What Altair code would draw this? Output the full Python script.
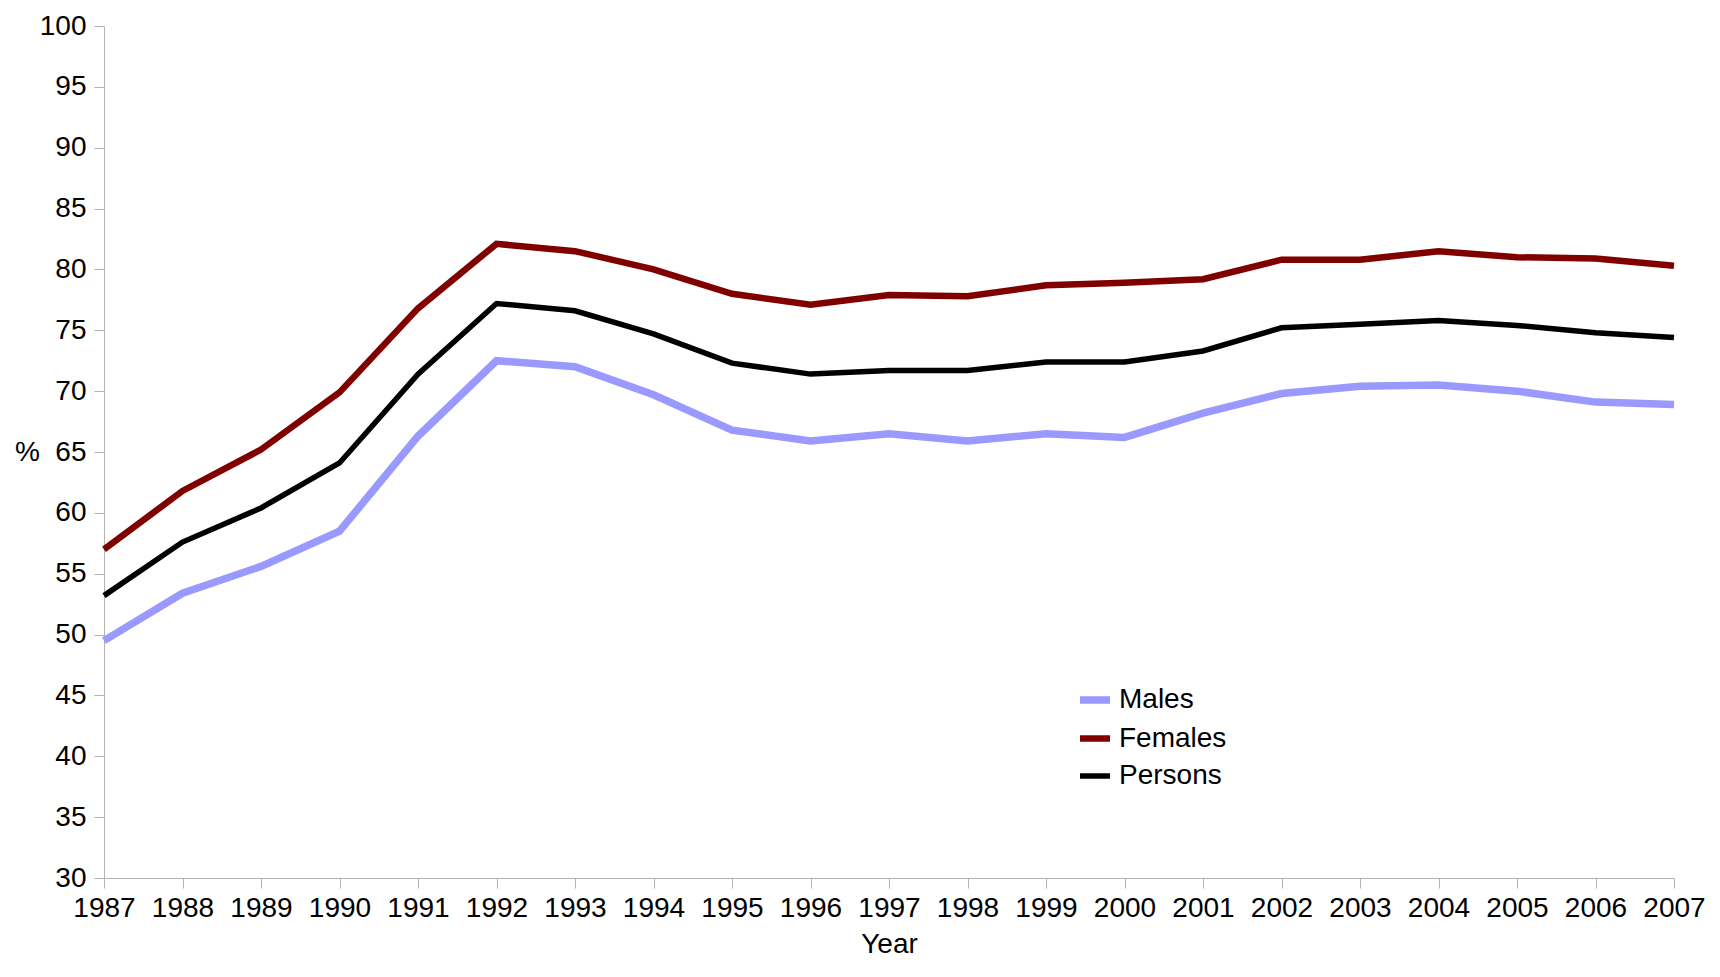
import altair as alt
import pandas as pd

years = list(range(1987, 2008))
males = [49.5, 53.4, 55.6, 58.5, 66.3, 72.5, 72.0, 69.7, 66.8, 65.9, 66.5, 65.9, 66.5, 66.2, 68.2, 69.8, 70.4, 70.5, 70.0, 69.1, 68.9]
females = [57.0, 61.8, 65.2, 69.9, 76.8, 82.1, 81.5, 80.0, 78.0, 77.1, 77.9, 77.8, 78.7, 78.9, 79.2, 80.8, 80.8, 81.5, 81.0, 80.9, 80.3]
persons = [53.2, 57.6, 60.4, 64.1, 71.4, 77.2, 76.6, 74.7, 72.3, 71.4, 71.7, 71.7, 72.4, 72.4, 73.3, 75.2, 75.5, 75.8, 75.4, 74.8, 74.4]

series = ["Males", "Females", "Persons"]
colors = ["#9999ff", "#800000", "#000000"]
widths = [7.5, 5.5, 6.5]

rows = []
for name, vals in zip(series, [males, females, persons]):
    for y, v in zip(years, vals):
        rows.append({"Year": y, "Value": v, "Series": name})
df = pd.DataFrame(rows)

FONT = "Liberation Sans"
FS = 28

chart = alt.Chart(df).mark_line(strokeJoin="miter", strokeCap="butt").encode(
    x=alt.X("Year:Q",
            scale=alt.Scale(domain=[1987, 2007], nice=False, zero=False),
            axis=alt.Axis(values=years, format="d", title="Year", grid=False,
                          labelFontSize=FS, titleFontSize=FS, titleFontWeight="normal",
                          labelFont=FONT, titleFont=FONT, labelColor="#000", titleColor="#000",
                          domainColor="#b3b3b3", tickColor="#b3b3b3", tickSize=10,
                          labelPadding=6, titlePadding=8, labelFlush=False)),
    y=alt.Y("Value:Q",
            scale=alt.Scale(domain=[30, 100], nice=False, zero=False),
            axis=alt.Axis(values=list(range(30, 101, 5)), title="%", grid=False,
                          labelFontSize=FS, titleFontSize=FS, titleFontWeight="normal",
                          labelFont=FONT, titleFont=FONT, labelColor="#000", titleColor="#000",
                          domainColor="#b3b3b3", tickColor="#b3b3b3", tickSize=10,
                          labelPadding=8, titleAngle=0, titleAlign="center",
                          titleBaseline="middle", titleX=-77, titleY=426)),
    color=alt.Color("Series:N",
                    scale=alt.Scale(domain=series, range=colors),
                    legend=alt.Legend(title=None, orient="none", legendX=972, legendY=655,
                                      symbolType="stroke", symbolSize=900, symbolStrokeWidth=6,
                                      labelFontSize=FS, labelFont=FONT, labelColor="#000",
                                      rowPadding=5, labelOffset=5)),
    strokeWidth=alt.StrokeWidth("Series:N",
                                scale=alt.Scale(domain=series, range=widths),
                                legend=None),
).properties(
    width=1570, height=852,
    autosize=alt.AutoSizeParams(type="none"),
    padding={"left": 96, "top": 18, "right": 34, "bottom": 86},
).configure_view(stroke=None)

chart.save("out.html", embed_options={"renderer": "svg", "actions": False})
